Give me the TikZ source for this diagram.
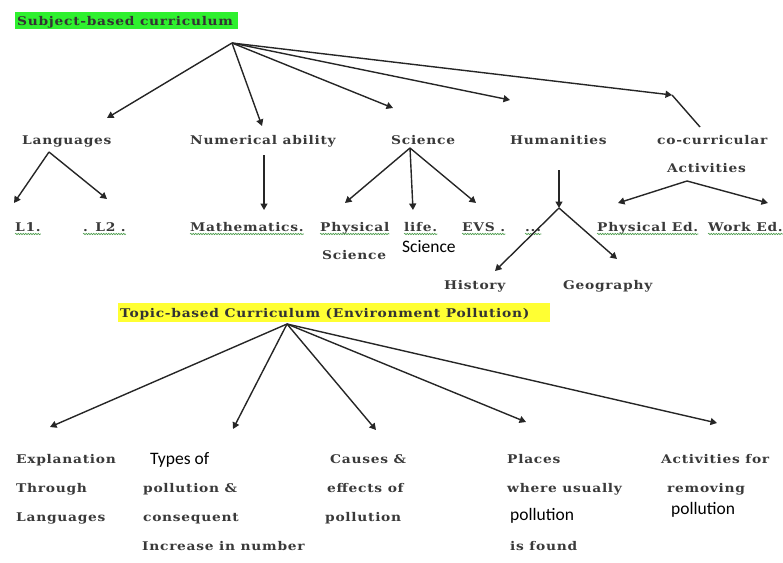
\documentclass[tikz,border=0pt]{standalone}
\usepackage{fontspec}
\usetikzlibrary{arrows.meta,decorations.pathmorphing}
\newfontfamily\bkf[LetterSpace=6,FakeStretch=1.15]{DejaVu Serif}
\newfontfamily\calf{Carlito}
\definecolor{txt}{HTML}{3A3A3A}
\definecolor{hlgreen}{HTML}{2EF02E}
\definecolor{hlyellow}{HTML}{FFFF33}
\definecolor{squig}{HTML}{4A9A4A}
\begin{document}
\begin{tikzpicture}[x=1pt,y=-1pt,
 lbl/.style={font=\bkf\bfseries\fontsize{12}{14}\selectfont, text=txt, inner sep=0pt, anchor=base west},
 sns/.style={font=\calf\fontsize{17.5}{20}\selectfont, text=black, inner sep=0pt, anchor=base west},
 arr/.style={-{Triangle[length=6.5pt,width=7pt]}, line width=1.4pt, draw=black!85},
 ln/.style={line width=1.4pt, draw=black!85},
 wavy/.style={draw=squig, line width=0.6pt, decorate, decoration={snake, segment length=2.5pt, amplitude=0.7pt}}]
\useasboundingbox (0,0) rectangle (783,562);
% titles
\fill[hlgreen] (15,12) rectangle (238,29);
\node[lbl, text=black!80] (t1) at (17,25) {Subject-based curriculum};
\fill[hlyellow] (118,303) rectangle (550,322);
\node[lbl, text=black!80] (t2) at (120,317) {Topic-based Curriculum (Environment Pollution)};
% level 1
\node[lbl] (lang) at (22,144) {Languages};
\node[lbl] (num) at (190,144) {Numerical ability};
\node[lbl] (sci) at (391,144) {Science};
\node[lbl] (hum) at (510,144) {Humanities};
\node[lbl] (cocur) at (657,144) {co-curricular};
\node[lbl] (act) at (667,172) {Activities};
% level 2
\node[lbl] (l1) at (15,231) {L1.};
\node[lbl] (l2) at (83,231) {. L2 .};
\node[lbl] (math) at (190,231) {Mathematics.};
\node[lbl] (phys) at (320,231) {Physical};
\node[lbl] (physb) at (322,259) {Science};
\node[lbl] (life) at (404,231) {life.};
\node[sns] (lifeb) at (402,252) {Science};
\node[lbl] (evs) at (462,231) {EVS .};
\node[lbl] (dots) at (525,231) {...};
\node[lbl] (ped) at (597,231) {Physical Ed.};
\node[lbl] (wed) at (708,231) {Work Ed.};
\node[lbl] (hist) at (444,289) {History};
\node[lbl] (geo) at (563,289) {Geography};
% spelling squiggles
\foreach \n in {l1,l2,math,phys,life,evs,dots,ped,wed}
  \draw[wavy] ([yshift=-3pt]\n.base west) -- ([yshift=-3pt]\n.base east);
% bottom
\node[lbl] (e1) at (16,463) {Explanation};
\node[lbl] (e2) at (16,492) {Through};
\node[lbl] (e3) at (16,521) {Languages};
\node[sns] (ty1) at (150,464) {Types of};
\node[lbl] (ty2) at (143,492) {pollution \&};
\node[lbl] (ty3) at (143,521) {consequent};
\node[lbl] (ty4) at (142,550) {Increase in number};
\node[lbl] (c1) at (330,463) {Causes \&};
\node[lbl] (c2) at (327,492) {effects of};
\node[lbl] (c3) at (325,521) {pollution};
\node[lbl] (p1) at (507,463) {Places};
\node[lbl] (p2) at (507,492) {where usually};
\node[sns] (p3) at (510,520) {pollution};
\node[lbl] (p4) at (510,550) {is found};
\node[lbl] (a1) at (661,463) {Activities for};
\node[lbl] (a2) at (667,492) {removing};
\node[sns] (a3) at (671,514) {pollution};
% junctions
\coordinate (r1) at (232,43);
\coordinate (tl) at (107,118);
\coordinate (tn) at (262,126);
\coordinate (ts) at (393,108);
\coordinate (th) at (510,100);
\coordinate (tc) at (672,95);
\coordinate (tc2) at (700,127);
\coordinate (ja) at (49,152);
\coordinate (jl1) at (14,203);
\coordinate (jl2) at (107,199);
\coordinate (jn) at (264,155);
\coordinate (jm) at (264,210);
\coordinate (js) at (410,148);
\coordinate (jp) at (345,203);
\coordinate (jli) at (413,210);
\coordinate (je) at (476,203);
\coordinate (jh) at (559,170);
\coordinate (jh2) at (559,208);
\coordinate (jhi) at (495,271);
\coordinate (jge) at (617,259);
\coordinate (jac) at (687,181);
\coordinate (jpe) at (618,203);
\coordinate (jwe) at (768,203);
\coordinate (r2) at (287,324);
\coordinate (be) at (50,427);
\coordinate (bt) at (233,429);
\coordinate (bc) at (376,430);
\coordinate (bp) at (526,422);
\coordinate (ba) at (717,423);
% connectors
\draw[arr] (r1) -- (tl);
\draw[arr] (r1) -- (tn);
\draw[arr] (r1) -- (ts);
\draw[arr] (r1) -- (th);
\draw[arr] (r1) -- (tc);
\draw[ln] (tc) -- (tc2);
\draw[arr] (ja) -- (jl1);
\draw[arr] (ja) -- (jl2);
\draw[arr] (jn) -- (jm);
\draw[arr] (js) -- (jp);
\draw[arr] (js) -- (jli);
\draw[arr] (js) -- (je);
\draw[arr] (jh) -- (jh2);
\draw[arr] (jh2) -- (jhi);
\draw[arr] (jh2) -- (jge);
\draw[arr] (jac) -- (jpe);
\draw[arr] (jac) -- (jwe);
\draw[arr] (r2) -- (be);
\draw[arr] (r2) -- (bt);
\draw[arr] (r2) -- (bc);
\draw[arr] (r2) -- (bp);
\draw[arr] (r2) -- (ba);
\end{tikzpicture}
\end{document}
